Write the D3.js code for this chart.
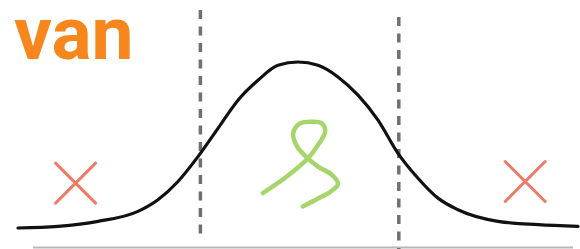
<!DOCTYPE html>
<html>
<head>
<meta charset="utf-8">
<script src="https://cdn.jsdelivr.net/npm/d3@7"></script>
<style>
  body { margin: 0; background: #fff; }
</style>
</head>
<body>
<div id="chart"></div>
<script>
// curve points (z, relative height)
var curveZ = [-3.5, -3, -2.5, -2, -1.75, -1.5, -1.25, -1, -0.75, -0.5, -0.25, 0,
              0.25, 0.5, 0.75, 1, 1.25, 1.5, 1.75, 2, 2.5, 3, 3.5];
var curveV = [0, 0.01, 0.04, 0.10, 0.17, 0.28, 0.43, 0.60, 0.77, 0.89, 0.98, 1,
              0.98, 0.91, 0.80, 0.65, 0.45, 0.30, 0.18, 0.11, 0.04, 0.02, 0.01];

// dashed cut-offs
var cutZ = [-1.22, 1.26];

// red crosses outside the cut-offs
var crossZ = [-2.78, 2.84];
var crossV = [0.27, 0.28];

// green scribble in the middle
var scribbleZ = [-0.44, -0.14, 0.125, 0.25, 0.34, 0.30, 0.175, 0.025, -0.06, -0.01,
                 0.10, 0.25, 0.425, 0.50, 0.41, 0.24, 0.06];
var scribbleV = [0.21, 0.31, 0.42, 0.50, 0.58, 0.63, 0.64, 0.63, 0.57, 0.49,
                 0.43, 0.37, 0.32, 0.265, 0.22, 0.175, 0.13];

var title = 'van';

var bellChart = {

  config: {
    width: 580,
    height: 249,
    crossSize: 20
  },

  display: function(el) {
    this.el = el;

    this.createSvg();
    this.createScales();
    this.createBaseline();
    this.createCutoffs();
    this.createCurve();
    this.createCrosses();
    this.createScribble();
    this.createTitle();
  },

  createSvg: function() {
    this.svg = d3.select(this.el).append('svg')
                 .attr('width', this.config.width)
                 .attr('height', this.config.height);
  },

  createScales: function() {
    this.x = d3.scaleLinear().domain([-3.5, 3.5]).range([18, 578]);
    this.y = d3.scaleLinear().domain([0, 1]).range([228, 62]);
  },

  /* ---
   * light grey ground line under everything
   */
  createBaseline: function() {
    this.svg.append('line')
            .attr('x1', 33).attr('x2', 573)
            .attr('y1', 247.5).attr('y2', 247.5)
            .attr('stroke', '#b8b8b8')
            .attr('stroke-width', 2);
  },

  createCutoffs: function() {
    var tops = [10, 17], bottoms = [240, 249];
    this.svg.selectAll('.cut')
            .data(cutZ)
            .enter()
            .append('line')
            .attr('class', 'cut')
            .attr('x1', (d) => this.x(d))
            .attr('x2', (d) => this.x(d))
            .attr('y1', (d, i) => tops[i])
            .attr('y2', (d, i) => bottoms[i])
            .attr('stroke', '#707070')
            .attr('stroke-width', 3.5)
            .attr('stroke-dasharray', '9,7.5');
  },

  createCurve: function() {
    var pts = curveZ.map((z, i) => [z, curveV[i]]);
    var line = d3.line()
                 .x((d) => this.x(d[0]))
                 .y((d) => this.y(d[1]))
                 .curve(d3.curveMonotoneX);

    this.svg.append('path')
            .datum(pts)
            .attr('d', line)
            .attr('fill', 'none')
            .attr('stroke', '#111')
            .attr('stroke-width', 3.2)
            .attr('stroke-linecap', 'round');
  },

  createCrosses: function() {
    var s = this.config.crossSize;
    var g = this.svg.selectAll('.cross')
                    .data(crossZ)
                    .enter()
                    .append('g')
                    .attr('class', 'cross')
                    .attr('transform', (d, i) => 'translate(' + this.x(d) + ',' + this.y(crossV[i]) + ')');

    g.append('line').attr('x1', -s).attr('y1', -s).attr('x2', s).attr('y2', s);
    g.append('line').attr('x1', -s).attr('y1', s).attr('x2', s).attr('y2', -s);
    g.selectAll('line')
     .attr('stroke', '#ee7a68')
     .attr('stroke-width', 3)
     .attr('stroke-linecap', 'round');
  },

  createScribble: function() {
    var pts = scribbleZ.map((z, i) => [z, scribbleV[i]]);
    var line = d3.line()
                 .x((d) => this.x(d[0]))
                 .y((d) => this.y(d[1]))
                 .curve(d3.curveCatmullRom.alpha(0.5));

    this.svg.append('path')
            .datum(pts)
            .attr('d', line)
            .attr('fill', 'none')
            .attr('stroke', '#a6d56b')
            .attr('stroke-width', 4.5)
            .attr('stroke-linecap', 'round')
            .attr('stroke-linejoin', 'round');
  },

  createTitle: function() {
    this.svg.append('text')
            .attr('x', 14)
            .attr('y', 59)
            .attr('font-family', 'Roboto, sans-serif')
            .attr('font-weight', 700)
            .attr('font-size', 75)
            .attr('fill', '#f7861c')
            .text(title);
  }

}

bellChart.display('#chart');
</script>
</body>
</html>
